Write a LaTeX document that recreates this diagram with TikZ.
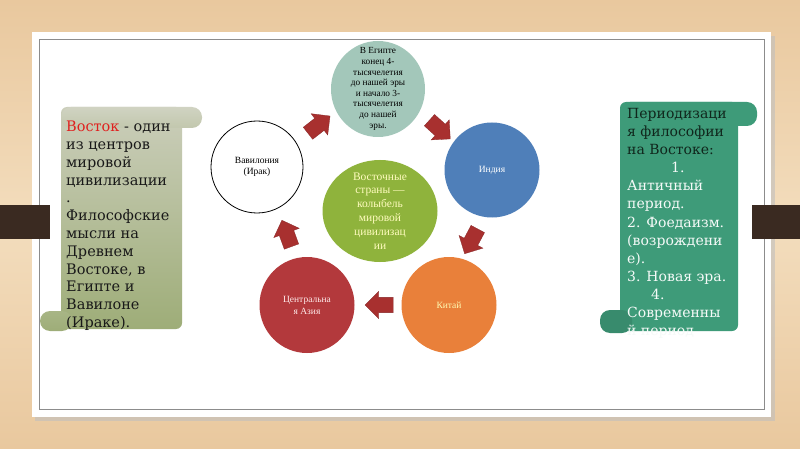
\documentclass[tikz,border=0pt]{standalone}
\usepackage{fontspec}
\setmainfont{DejaVu Serif}
\newfontfamily\circfont{Liberation Serif}
\usetikzlibrary{shapes.arrows,shapes.geometric}
\definecolor{woodA}{HTML}{E9C89E}
\definecolor{woodB}{HTML}{F3DDBD}
\definecolor{tabbrown}{HTML}{3A2A21}
\definecolor{egyptc}{HTML}{A3C7BA}
\definecolor{indiac}{HTML}{4F7FB9}
\definecolor{greenc}{HTML}{8FB33C}
\definecolor{asiac}{HTML}{B3393C}
\definecolor{chinac}{HTML}{E9803A}
\definecolor{arrowred}{HTML}{A8302F}
\definecolor{scrollA}{HTML}{CBCEBB}
\definecolor{scrollB}{HTML}{9EAD78}
\definecolor{tealc}{HTML}{3E9B79}
\definecolor{vred}{HTML}{E0201E}
\definecolor{darkt}{HTML}{10261C}
\tikzset{
  circ/.style={ellipse, inner sep=0pt},
  ctext/.style={align=center, inner sep=0pt},
  blockarrow/.style={single arrow, fill=arrowred, draw=arrowred!80!black, line width=0.3pt,
     minimum height=28pt, minimum width=27pt, inner xsep=0pt, inner ysep=7pt,
     single arrow head extend=5.5pt},
  scrolltext/.style={anchor=north west, align=left, inner sep=0pt}
}
\begin{document}
\begin{tikzpicture}[x=1pt,y=1pt]
\useasboundingbox (0,0) rectangle (800,-449);
% background wood
\shade[top color=woodA, bottom color=woodA, middle color=woodB] (0,0) rectangle (800,-449);
% card shadow and card
\fill[black!25, opacity=0.6] (35,-36) rectangle (775,-421);
\fill[white] (32,-32) rectangle (771,-417);
\draw[black!45, line width=0.8pt] (39,-39) rectangle (764,-409);
% tabs
\fill[tabbrown] (0,-205) rectangle (50,-239);
\fill[tabbrown] (752,-205) rectangle (800,-239);

% left scroll
\shade[top color=scrollA, bottom color=scrollB, rounded corners=6pt] (61,-107) rectangle (182,-329);
\shade[top color=scrollA!90!white, bottom color=scrollA!80!scrollB, rounded corners=10pt] (61,-107) rectangle (202,-128);
\shade[top color=scrollB!90!white, bottom color=scrollB, rounded corners=10pt] (40,-311) rectangle (72,-331);
\node[scrolltext, font=\fontsize{14.5}{17.8}\selectfont, text=black!90] (lt) at (66,-121)
 {\textcolor{vred}{ Восток} - один\\
  из центров\\
  мировой\\
  цивилизации\\
  .\\
  Философские\\
  мысли на\\
  Древнем\\
  Востоке, в\\
  Египте и\\
  Вавилоне\\
  (Ираке).};

% right scroll
\fill[tealc, rounded corners=6pt] (620,-102) rectangle (738,-331);
\fill[tealc, rounded corners=10pt] (620,-102) rectangle (757,-126);
\fill[tealc!90!black, rounded corners=10pt] (600,-310) rectangle (632,-333);
\node[scrolltext, font=\fontsize{14}{18.1}\selectfont, text=white!95!tealc] (rt) at (627,-108)
 {\textcolor{darkt}{Периодизаци}\\
  \textcolor{darkt}{я философии}\\
  \textcolor{darkt}{на Востоке:}\\
  \hspace*{44pt}1.\\
  Античный\\
  период.\\
  2. Фоедаизм.\\
  (возрождени\\
  е).\\
  3. Новая эра.\\
  \hspace*{24pt}4.\\
  Современны\\
  й период};

% circles
\node[circ, fill=egyptc, minimum width=94pt, minimum height=96pt] (egypt) at (378,-89) {};
\node[ctext, font=\circfont\fontsize{9.3}{10.6}\selectfont] (egyptT) at (egypt) 
 {В Египте\\конец 4-\\тысячелетия\\до нашей эры\\и начало 3-\\тысячелетия\\до нашей\\эры.};
\node[circ, draw=black, line width=0.8pt, fill=white, minimum width=92pt, minimum height=92pt] (bab) at (257,-167) {};
\node[ctext, font=\circfont\fontsize{9.5}{11}\selectfont] (babT) at (bab) {Вавилония\\(Ирак)};
\node[circ, fill=indiac, minimum width=95pt, minimum height=95pt] (india) at (492,-170) {};
\node[ctext, text=white, font=\circfont\fontsize{9.5}{11}\selectfont] (indiaT) at (india) {Индия};
\node[circ, fill=greenc, minimum width=115pt, minimum height=102pt] (center) at (380,-211) {};
\node[ctext, text=yellow!25!white, font=\circfont\fontsize{11.5}{13.9}\selectfont] (centerT) at (center)
 {Восточные\\страны —\\колыбель\\мировой\\цивилизац\\ии};
\node[circ, fill=asiac, minimum width=95pt, minimum height=96pt] (asia) at (307,-305) {};
\node[ctext, text=red!8!white, font=\circfont\fontsize{9.5}{12}\selectfont] (asiaT) at (asia) {Центральна\\я Азия};
\node[circ, fill=chinac, minimum width=95pt, minimum height=96pt] (china) at (449,-305) {};
\node[ctext, text=yellow!30!white, font=\circfont\fontsize{9.5}{11}\selectfont] (chinaT) at (china) {Китай};

% block arrows
\node[blockarrow, rotate=38] (a1) at (316,-127) {};
\node[blockarrow, rotate=-42] (a2) at (437,-127) {};
\node[blockarrow, rotate=-118] (a3) at (473,-238) {};
\node[blockarrow, rotate=180] (a4) at (383,-305) {};
\node[blockarrow, rotate=110] (a5) at (288,-237) {};
\end{tikzpicture}
\end{document}
